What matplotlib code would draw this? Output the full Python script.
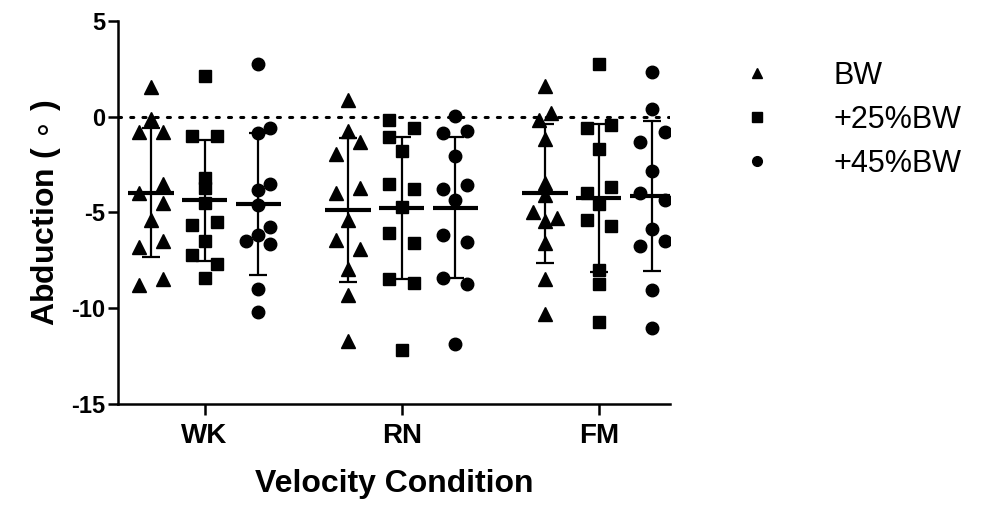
import matplotlib
matplotlib.use("Agg")
import matplotlib.pyplot as plt
from matplotlib.lines import Line2D
import numpy as np

plt.rcParams['font.family'] = ['Liberation Sans', 'DejaVu Sans']

categories = ["WK", "RN", "FM"]
series = ["BW", "+25%BW", "+45%BW"]

# observed values per condition / series
wk_bw  = [1.55, -0.1, -0.8, -0.8, -3.5, -4.0, -4.5, -5.4, -6.5, -6.8, -8.5, -8.8]
wk_25  = [2.12, -1.0, -1.0, -3.2, -3.7, -4.5, -5.5, -5.65, -6.5, -7.2, -7.7, -8.4]
wk_45  = [2.76, -0.6, -0.83, -3.5, -3.85, -4.6, -5.75, -6.2, -6.5, -6.65, -9.0, -10.2]
rn_bw  = [0.9, -0.74, -1.33, -1.93, -3.7, -3.97, -5.4, -6.45, -6.9, -7.95, -9.33, -11.7]
rn_25  = [-0.17, -0.57, -1.04, -1.8, -3.5, -3.77, -4.7, -6.05, -6.6, -8.46, -8.67, -12.2]
rn_45  = [0.05, -0.73, -0.86, -2.04, -3.58, -3.75, -4.35, -6.2, -6.56, -8.43, -8.72, -11.9]
fm_bw  = [1.6, 0.22, -0.14, -1.17, -3.45, -4.06, -5.0, -5.3, -5.44, -6.6, -8.5, -10.3]
fm_25  = [2.76, -0.57, -0.43, -1.69, -3.66, -3.97, -4.58, -5.39, -5.73, -8.0, -8.72, -10.7]
fm_45  = [2.33, 0.43, -0.81, -1.33, -2.85, -4.0, -4.37, -5.87, -6.5, -6.77, -9.03, -11.05]

# mean and SD (per condition, per series)
means = [[-3.97, -4.37, -4.57],
         [-4.87, -4.78, -4.75],
         [-4.00, -4.23, -4.15]]
sds = [[3.37, 3.15, 3.70],
       [3.76, 3.72, 3.70],
       [3.65, 3.88, 3.93]]

# scatter layout slots (column within swarm)
wk_bw_s = [0, 0, -1, 1, 1, -1, 1, 0, 1, -1, 1, -1]
wk_25_s = [0, -1, 1, 0, 0, 0, 1, -1, 0, -1, 1, 0]
wk_45_s = [0, 1, 0, 1, 0, 0, 1, 0, -1, 1, 0, 0]
rn_bw_s = [0, 0, 1, -1, 1, -1, 0, -1, 1, 0, 0, 0]
rn_25_s = [-1, 1, -1, 0, -1, 1, 0, -1, 1, -1, 1, 0]
rn_45_s = [0, 1, -1, 0, 1, -1, 0, -1, 1, -1, 1, 0]
fm_bw_s = [0, 0.5, -0.5, 0, 0, 0, -1, 1, 0, 0, 0, 0]
fm_25_s = [0, -1, 1, 0, 1, -1, 0, -1, 1, 0, 0, 0]
fm_45_s = [0, 0, 1, -1, 0, -1, 1, 0, 1, -1, 0, 0]

data = [[wk_bw, wk_25, wk_45], [rn_bw, rn_25, rn_45], [fm_bw, fm_25, fm_45]]
slots = [[wk_bw_s, wk_25_s, wk_45_s], [rn_bw_s, rn_25_s, rn_45_s], [fm_bw_s, fm_25_s, fm_45_s]]
markers = ['^', 's', 'o']
msizes = [9.5, 8.5, 9]
offsets = [-0.272, 0.0, 0.272]
slot_w = 0.062

fig = plt.figure(figsize=(9.82, 5.17), dpi=100)
ax = fig.add_axes([0.120, 0.219, 0.562, 0.740])

ax.axhline(0, color='black', lw=2.2, linestyle=(0, (1, 3)), dash_capstyle='round', zorder=1)

for ci in range(3):
    for si in range(3):
        xc = ci + offsets[si]
        vals = np.array(data[ci][si])
        xs = xc + np.array(slots[ci][si]) * slot_w
        ax.plot(xs, vals, linestyle='none', marker=markers[si], ms=msizes[si],
                color='black', mec='black', zorder=3)
        m = means[ci][si]
        s = sds[ci][si]
        ax.errorbar([xc], [m], yerr=[[s], [s]], fmt='none', ecolor='black',
                    elinewidth=1.6, capsize=6.5, capthick=1.6, zorder=4)
        ax.plot([xc - 0.115, xc + 0.115], [m, m], color='black', lw=3.0,
                solid_capstyle='butt', zorder=5)

ax.set_xlim(-0.44, 2.36)
ax.set_ylim(-15, 5)
ax.set_yticks([-15, -10, -5, 0, 5])
ax.set_yticklabels(['-15', '-10', '-5', '0', '5'])
ax.set_xticks(range(3))
ax.set_xticklabels(categories)
for sp in ['top', 'right']:
    ax.spines[sp].set_visible(False)
for sp in ['left', 'bottom']:
    ax.spines[sp].set_linewidth(1.8)
ax.tick_params(axis='y', width=1.8, length=7, labelsize=17, pad=2)
ax.tick_params(axis='x', width=1.8, length=8, labelsize=20, pad=6)
for lab in ax.get_xticklabels() + ax.get_yticklabels():
    lab.set_fontweight('bold')

ax.set_xlabel('Velocity Condition', fontsize=23, fontweight='bold', labelpad=14)
ax.set_ylabel('Abduction ( $\\circ$ )', fontsize=23, fontweight='bold', labelpad=6)

handles = [Line2D([], [], linestyle='none', marker=markers[i], ms=7, color='black')
           for i in range(3)]
fig.legend(handles, series, loc='upper left', bbox_to_anchor=(0.727, 0.935),
           frameon=False, fontsize=22, handletextpad=2.0, labelspacing=0.45,
           handlelength=1.0)

fig.savefig('out.png', dpi=100)
